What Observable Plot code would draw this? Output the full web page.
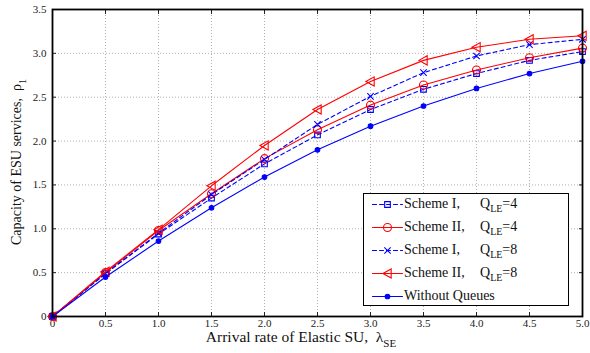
<!DOCTYPE html>
<html><head><meta charset="utf-8">
<script src="https://cdn.jsdelivr.net/npm/d3@7"></script>
<script src="https://cdn.jsdelivr.net/npm/@observablehq/plot@0.6"></script>
<style>
body{margin:0;background:#fff;}
#wrap{position:relative;width:590px;height:353px;font-family:"Liberation Serif","Times New Roman",serif;}
#legend{position:absolute;left:363px;top:193px;width:206px;height:113px;border:1.3px solid #000;background:#fff;box-sizing:border-box;font-size:14px;color:#111;}
#legend .row{position:absolute;left:0;height:20px;display:flex;align-items:center;white-space:pre;}
#legend .nm{display:inline-block;width:76px;}
sub{font-size:10px;vertical-align:-4px;line-height:0;}
</style></head>
<body><div id="wrap"><div id="chart"></div><div id="legend"></div></div>
<script>
const lambdaSE = [0,0.5,1,1.5,2,2.5,3,3.5,4,4.5,5];
const schemeI_Q4 = [0,0.49,0.94,1.35,1.74,2.07,2.36,2.59,2.77,2.92,3.02];
const schemeII_Q4 = [0,0.50,0.98,1.40,1.80,2.13,2.41,2.64,2.81,2.95,3.06];
const schemeI_Q8 = [0,0.49,0.95,1.39,1.79,2.19,2.51,2.78,2.97,3.10,3.16];
const schemeII_Q8 = [0,0.51,0.99,1.49,1.95,2.36,2.68,2.92,3.07,3.16,3.20];
const withoutQueues = [0,0.45,0.86,1.24,1.59,1.90,2.17,2.40,2.60,2.77,2.91];
const xTicks = [0,0.5,1,1.5,2,2.5,3,3.5,4,4.5,5];
const yTicks = [0,0.5,1,1.5,2,2.5,3,3.5];

const triangleLeft = {draw(ctx, size){const r=Math.sqrt(size/Math.PI)*1.15;ctx.moveTo(-r,0);ctx.lineTo(r*0.8,-r);ctx.lineTo(r*0.8,r);ctx.closePath();}};

const series = [
  {name:"Scheme I", q:"4", vals:schemeI_Q4, color:"#0000ff", dash:"4,3", symbol:"square", r:3.2, fill:"none"},
  {name:"Scheme II", q:"4", vals:schemeII_Q4, color:"#ff0000", dash:null, symbol:"circle", r:4, fill:"none"},
  {name:"Scheme I", q:"8", vals:schemeI_Q8, color:"#0000ff", dash:"4,3", symbol:"times", r:3, fill:"none"},
  {name:"Scheme II", q:"8", vals:schemeII_Q8, color:"#ff0000", dash:null, symbol:triangleLeft, r:4, fill:"none"},
  {name:"Without Queues", q:null, vals:withoutQueues, color:"#0000ff", dash:null, symbol:"circle", r:2.3, fill:"#0000ff"}
];

const fmt = d => d === 0 ? "0" : d.toFixed(1);
const marks = [
  Plot.gridX(xTicks, {stroke:"#b0b0b0", strokeOpacity:1, strokeDasharray:"1,2"}),
  Plot.gridY(yTicks, {stroke:"#b0b0b0", strokeOpacity:1, strokeDasharray:"1,2"}),
  Plot.axisX(xTicks, {tickSize:-4, tickPadding:7, tickFormat:fmt, label:null, fontSize:11}),
  Plot.axisX(xTicks, {anchor:"top", tickSize:-4, tickFormat:()=>"", label:null}),
  Plot.axisY(yTicks, {tickSize:-4, tickPadding:10, tickFormat:fmt, label:null, fontSize:11}),
  Plot.axisY(yTicks, {anchor:"right", tickSize:-4, tickFormat:()=>"", label:null}),
];
for (const s of series) {
  const data = lambdaSE.map((x,i)=>({x, y:s.vals[i]}));
  marks.push(Plot.line(data, {x:"x", y:"y", stroke:s.color, strokeWidth:1.1, strokeDasharray:s.dash}));
  marks.push(Plot.dot(data, {x:"x", y:"y", stroke:s.color, fill:s.fill, symbol:s.symbol, r:s.r, strokeWidth:1.1}));
}
marks.push(Plot.frame({stroke:"#000", strokeWidth:1.8}));

const chart = Plot.plot({
  width:590, height:353,
  marginLeft:52, marginRight:8, marginTop:9, marginBottom:37,
  style:{fontFamily:'"Liberation Serif","Times New Roman",serif', fontSize:"11px", color:"#222", background:"#fff"},
  x:{domain:[0,5]},
  y:{domain:[0,3.5]},
  marks
});
document.getElementById("chart").appendChild(chart);

// axis labels with subscripts
const svg = d3.select(chart);
const xl = svg.append("text").attr("x", 301).attr("y", 342).attr("text-anchor","middle")
  .attr("font-size", 15.5).attr("fill","#111").style("white-space","pre");
xl.append("tspan").text("Arrival rate of Elastic SU,  λ");
xl.append("tspan").attr("font-size",11).attr("dy",5).text("SE");
const yl = svg.append("text").attr("transform","translate(21,162) rotate(-90)").attr("text-anchor","middle")
  .attr("font-size", 14).attr("fill","#111").style("white-space","pre");
yl.append("tspan").text("Capacity of ESU services,  ρ");
yl.append("tspan").attr("font-size",10).attr("dy",5).text("1");

// legend
const leg = document.getElementById("legend");
const rowsY = [0, 23, 46, 69, 92];
series.forEach((s,i)=>{
  const row = document.createElement("div");
  row.className = "row";
  row.style.top = rowsY[i] + "px";
  const sample = Plot.plot({width:30,height:14,margin:0,x:{domain:[0,1],axis:null},y:{domain:[0,1],axis:null},
    marks:[Plot.lineY([{x:0,y:0.5},{x:1,y:0.5}],{x:"x",y:"y",stroke:s.color,strokeWidth:1.1,strokeDasharray:s.dash}),
           Plot.dot([{x:0.5,y:0.5}],{x:"x",y:"y",stroke:s.color,fill:s.fill,symbol:s.symbol,r:s.r,strokeWidth:1.1})]});
  sample.style.marginLeft="8px"; sample.style.marginRight="2px"; sample.style.overflow="visible";
  row.appendChild(sample);
  if (s.q) {
    const t = document.createElement("span");
    t.className = "nm";
    t.textContent = s.name + ",";
    const q = document.createElement("span");
    q.innerHTML = "Q<sub>LE</sub>=" + s.q;
    row.appendChild(t); row.appendChild(q);
  } else {
    const t = document.createElement("span");
    t.textContent = s.name;
    row.appendChild(t);
  }
  leg.appendChild(row);
});
</script></body></html>
